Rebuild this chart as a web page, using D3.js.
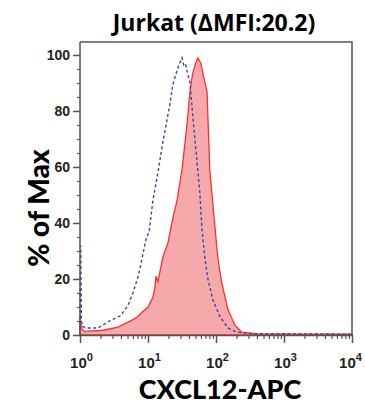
<!DOCTYPE html>
<html>
<head>
<meta charset="utf-8">
<script src="https://cdn.jsdelivr.net/npm/d3@7"></script>
<style>
  body { margin: 0; background: #fff; }
  svg { display: block; }
</style>
</head>
<body>
<div id="chart"></div>
<script>
// fluorescence (CXCL12-APC) vs % of max
var redX = [1.0, 1.03, 1.08, 1.18, 1.3, 2.2, 3.6, 5.1, 6.6, 7.9, 10, 11.8, 12.6, 13.1, 14.0, 16.6, 19.7, 23.3, 26.7, 31.6, 37.4, 41.5, 45, 50, 54.3, 60, 66, 73.8, 81, 97, 104, 110, 122, 150, 190, 240, 445, 10000]
var redY = [6, 4, 2, 1.2, 1.4, 1.7, 2.8, 4.6, 6, 7.8, 10, 13.5, 16.7, 21, 19, 28, 33, 42, 48, 59, 75, 87, 93, 97, 99, 97, 92, 87, 59, 38, 30, 25, 18.5, 9, 3.5, 1, 0.3, 0.3]

var blueX = [1.0, 1.025, 1.05, 1.1, 1.22, 1.84, 2.86, 4.0, 5.1, 6.0, 7.1, 7.9, 9.3, 10.4, 11.8, 14.0, 16.3, 21, 23.3, 28, 31.6, 33.5, 35.5, 38.5, 41.5, 45.7, 52.5, 58, 62, 69, 76, 90, 115, 150, 203, 316, 10000]
var blueY = [2, 32, 5, 3, 2.5, 2.5, 5.3, 7, 10.7, 15, 20.6, 25.6, 34, 37, 48, 58, 68, 82.5, 89.6, 96, 99, 96.5, 97, 93, 90, 77.6, 62, 50.5, 38, 27, 20, 12.5, 6.4, 2.5, 1, 0.5, 0.3]

var xMajor = [1, 10, 100, 1000, 10000]
var yMajor = [0, 20, 40, 60, 80, 100]

var title = "Jurkat (\u0394MFI:20.2)"
var xTitle = "CXCL12-APC"
var yTitle = "% of Max"

var W = 365, H = 406

var svg = d3.select("#chart").append("svg")
  .attr("width", W).attr("height", H)

var x = d3.scaleLog().domain([1, 10000]).range([80, 352])
var y = d3.scaleLinear().domain([0, 100]).range([335, 55])

var red = redX.map(function(v, i){ return [v, redY[i]] })
var blue = blueX.map(function(v, i){ return [v, blueY[i]] })

// red filled histogram
svg.append("path")
  .datum(red)
  .attr("d", d3.area().x(d => x(d[0])).y0(y(0)).y1(d => y(d[1])))
  .attr("fill", "#f6a9aa")
  .attr("stroke", "#ff2e2e")
  .attr("stroke-width", 1.3)

// blue dashed control
svg.append("path")
  .datum(blue)
  .attr("d", d3.line().x(d => x(d[0])).y(d => y(d[1])))
  .attr("fill", "none")
  .attr("stroke", "#3448a6")
  .attr("stroke-width", 1.4)
  .attr("stroke-dasharray", "3,2.5")

// frame top + right
svg.append("path")
  .attr("d", "M80,42H352V335")
  .attr("fill", "none")
  .attr("stroke", "#555")
  .attr("stroke-width", 1.5)

// minor ticks
var xMinor = []
for (var d = 1; d < 10000; d *= 10) {
  for (var k = 2; k < 10; k++) xMinor.push(d * k)
}

svg.append("g")
  .attr("transform", "translate(0,335)")
  .call(d3.axisBottom(x).tickValues(xMinor).tickSize(4).tickFormat(""))
  .call(g => g.select(".domain").remove())
  .selectAll("line").attr("stroke", "#555").attr("stroke-width", 1.2)

svg.append("g")
  .attr("transform", "translate(80,0)")
  .call(d3.axisLeft(y).tickValues(d3.range(5, 100, 5).filter(v => v % 20 != 0)).tickSize(3).tickFormat(""))
  .call(g => g.select(".domain").remove())
  .selectAll("line").attr("stroke", "#555").attr("stroke-width", 1.2)

// X axis
var gx = svg.append("g")
  .attr("transform", "translate(0,335)")
  .call(d3.axisBottom(x).tickValues(xMajor).tickSize(8).tickSizeOuter(0).tickFormat(""))
gx.select(".domain").attr("stroke", "#555").attr("stroke-width", 1.5)
gx.selectAll("line").attr("stroke", "#555").attr("stroke-width", 1.5)
gx.selectAll(".tick").each(function(v){
  var t = d3.select(this).append("text")
    .attr("y", 33)
    .attr("x", v == 10000 ? -2 : 1)
    .attr("text-anchor", "middle")
    .attr("fill", "#222")
    .style("font-family", "'Liberation Sans', Arial, sans-serif")
    .style("font-weight", "bold")
    .style("font-size", "15px")
  t.append("tspan").text("10")
  t.append("tspan").attr("dy", -7).style("font-size", "11px").text(Math.round(Math.log10(v)))
})

// Y axis
var gy = svg.append("g")
  .attr("transform", "translate(80,0)")
  .call(d3.axisLeft(y).tickValues(yMajor).tickSize(7).tickSizeOuter(0).tickPadding(3))
gy.select(".domain").attr("d", "M0,42V335").attr("stroke", "#555").attr("stroke-width", 1.5)
gy.selectAll("line").attr("stroke", "#555").attr("stroke-width", 1.5)
gy.selectAll("text")
  .attr("fill", "#222")
  .style("font-family", "'Liberation Sans', Arial, sans-serif")
  .style("font-weight", "bold")
  .style("font-size", "14px")

// titles
svg.append("text")
  .attr("x", 214).attr("y", 31)
  .attr("text-anchor", "middle")
  .style("font-family", "'Open Sans', sans-serif")
  .style("font-weight", "bold")
  .style("font-size", "23px")
  .text(title)

svg.append("text")
  .attr("x", 220).attr("y", 399)
  .attr("text-anchor", "middle")
  .style("font-family", "Lato, sans-serif")
  .style("font-weight", "900")
  .style("font-size", "27px")
  .text(xTitle)

svg.append("text")
  .attr("transform", "translate(49,208) rotate(-90)")
  .attr("text-anchor", "middle")
  .style("font-family", "Lato, sans-serif")
  .style("font-weight", "900")
  .style("font-size", "28px")
  .text(yTitle)
</script>
</body>
</html>
